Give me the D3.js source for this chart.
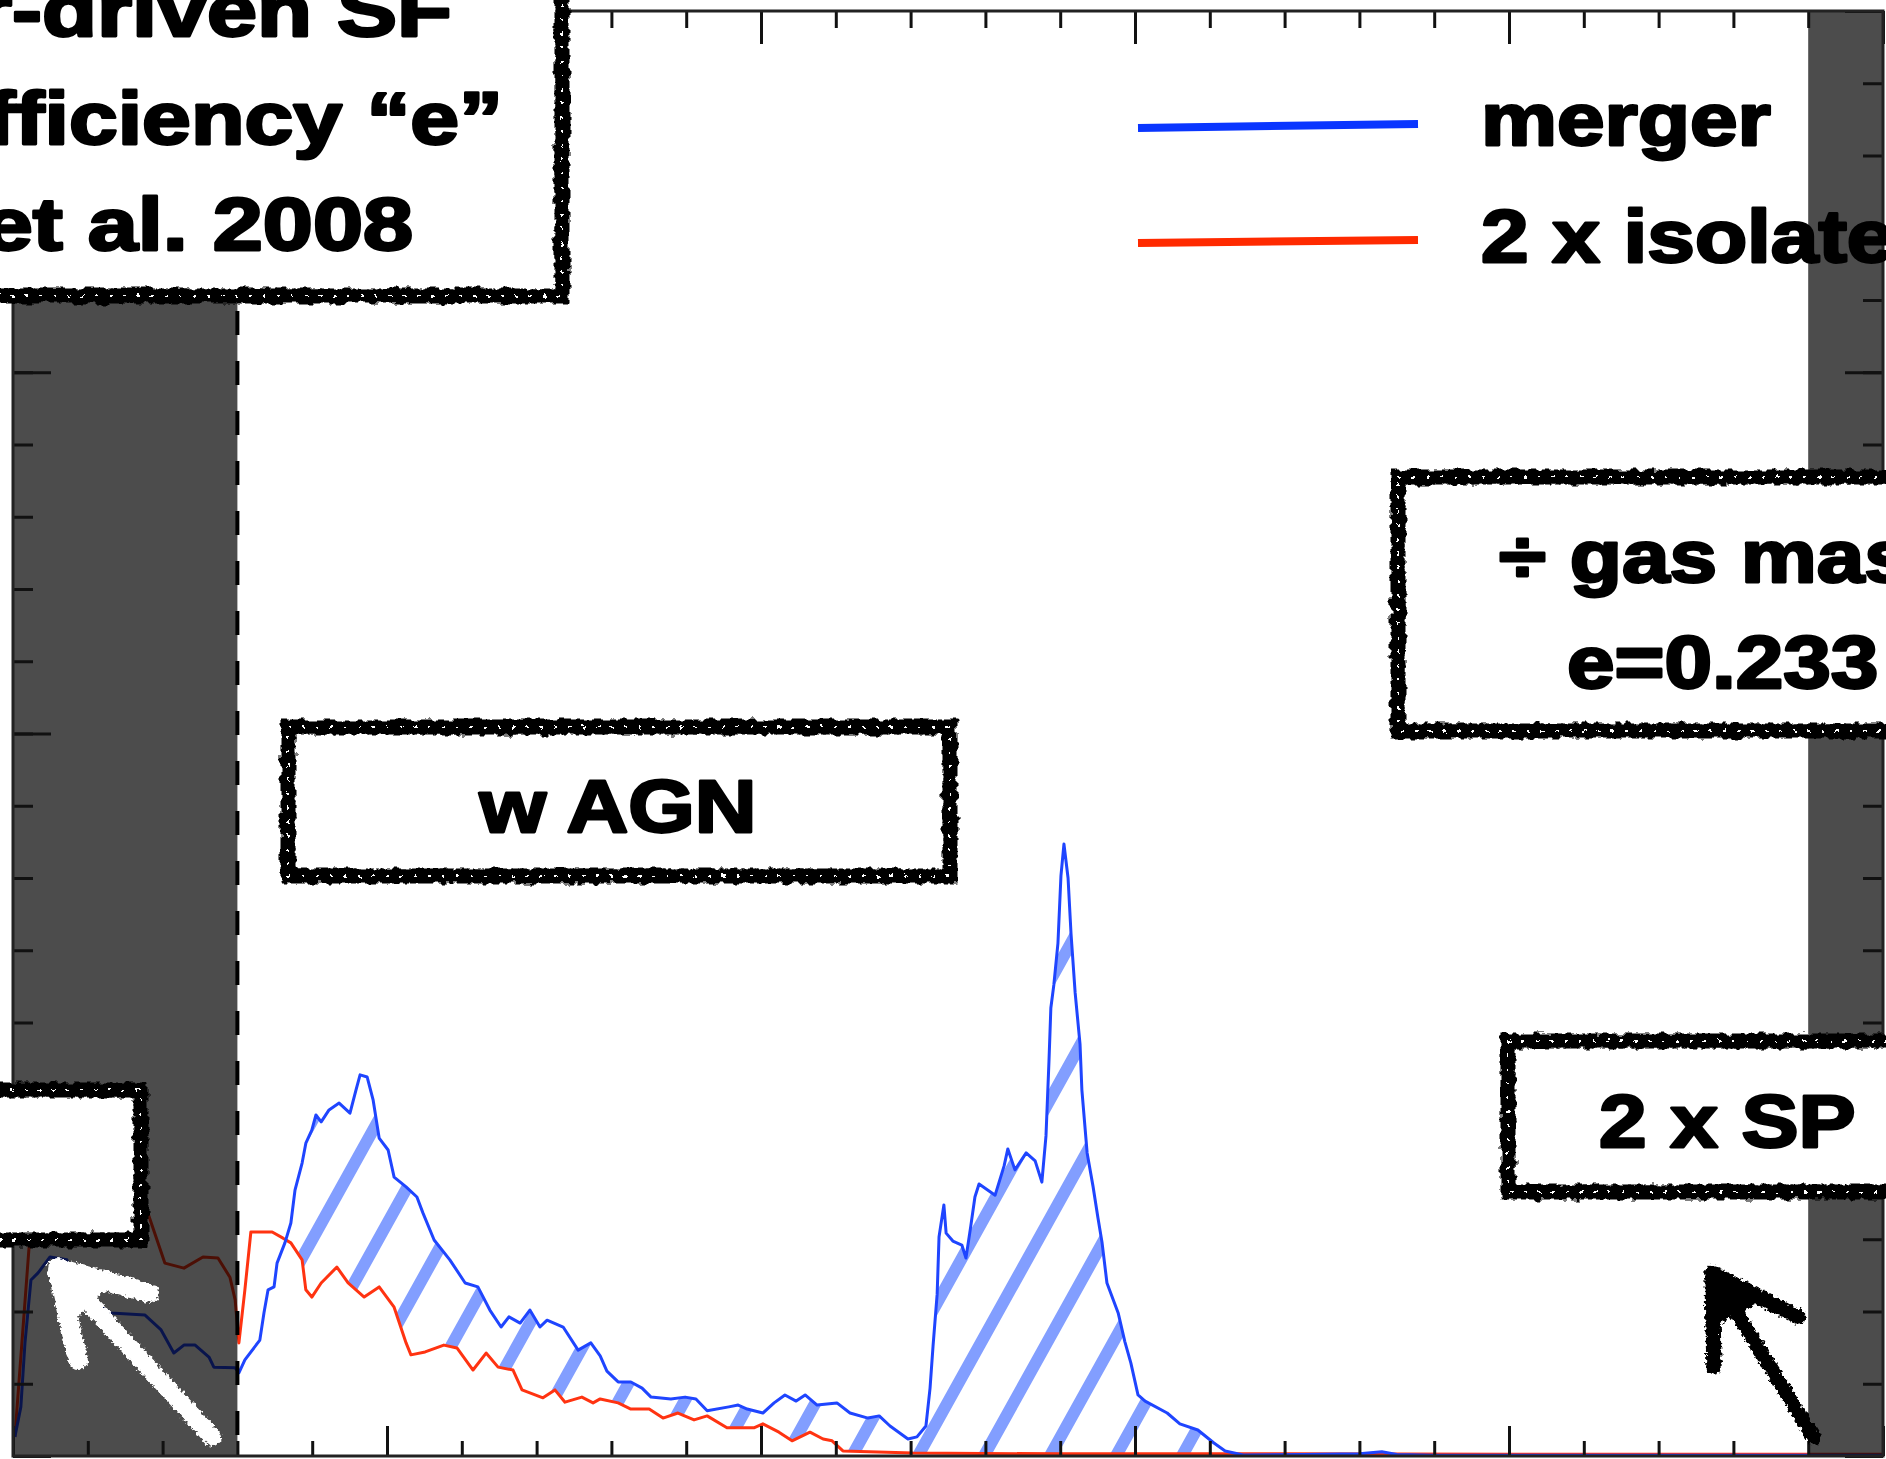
<!DOCTYPE html>
<html><head><meta charset="utf-8">
<script src="https://cdn.jsdelivr.net/npm/d3@7"></script>
<style>html,body{margin:0;padding:0;background:#fff;overflow:hidden}</style>
</head><body>
<svg id="c" width="1886" height="1459"></svg>
<script>
// ---------------- DATA (time, star formation rate) ----------------
const merger = [[0.005,0.053],[0.021,0.136],[0.032,0.313],[0.048,0.487],[0.067,0.507],[0.099,0.551],[0.144,0.543],[0.160,0.495],[0.206,0.432],[0.262,0.396],[0.353,0.390],[0.396,0.349],[0.430,0.285],[0.457,0.307],[0.487,0.307],[0.524,0.274],[0.537,0.246],[0.594,0.244],[0.604,0.230],[0.620,0.266],[0.660,0.321],[0.671,0.396],[0.682,0.460],[0.698,0.468],[0.706,0.534],[0.727,0.590],[0.743,0.645],[0.754,0.736],[0.773,0.811],[0.783,0.866],[0.799,0.902],[0.810,0.944],[0.824,0.925],[0.845,0.958],[0.872,0.977],[0.901,0.949],[0.917,1.013],[0.928,1.055],[0.947,1.049],[0.963,0.985],[0.979,0.880],[1.003,0.847],[1.019,0.772],[1.051,0.745],[1.080,0.717],[1.096,0.673],[1.126,0.598],[1.168,0.543],[1.209,0.479],[1.243,0.468],[1.275,0.404],[1.305,0.357],[1.326,0.385],[1.356,0.368],[1.382,0.404],[1.409,0.357],[1.428,0.376],[1.471,0.357],[1.511,0.293],[1.545,0.313],[1.570,0.277],[1.588,0.235],[1.618,0.205],[1.652,0.205],[1.682,0.188],[1.706,0.163],[1.759,0.158],[1.797,0.163],[1.826,0.158],[1.856,0.125],[1.914,0.136],[1.939,0.141],[1.963,0.130],[2.005,0.119],[2.035,0.147],[2.064,0.169],[2.094,0.152],[2.118,0.169],[2.150,0.141],[2.203,0.147],[2.238,0.119],[2.286,0.105],[2.316,0.111],[2.345,0.083],[2.393,0.047],[2.417,0.053],[2.441,0.083],[2.452,0.188],[2.460,0.304],[2.471,0.448],[2.476,0.606],[2.489,0.695],[2.495,0.617],[2.513,0.595],[2.537,0.584],[2.548,0.548],[2.561,0.637],[2.572,0.717],[2.583,0.753],[2.626,0.722],[2.650,0.803],[2.660,0.850],[2.679,0.792],[2.709,0.839],[2.733,0.817],[2.751,0.758],[2.762,0.886],[2.770,1.093],[2.775,1.240],[2.783,1.304],[2.794,1.420],[2.802,1.606],[2.810,1.694],[2.821,1.600],[2.829,1.445],[2.840,1.282],[2.853,1.140],[2.858,1.013],[2.872,0.839],[2.888,0.745],[2.901,0.659],[2.912,0.590],[2.925,0.479],[2.955,0.396],[2.973,0.316],[2.989,0.257],[3.008,0.169],[3.027,0.152],[3.086,0.119],[3.120,0.089],[3.168,0.072],[3.211,0.036],[3.241,0.014],[3.289,0.003],[3.45,0.004],[3.60,0.006],[3.66,0.012],[3.70,0.004],[3.80,0.002],[4.2,0.002],[4.6,0.002],[5.0,0.002]];

const isolated = [[0.005,0.053],[0.043,0.579],[0.059,0.681],[0.12,0.70],[0.25,0.69],[0.353,0.695],[0.364,0.662],[0.406,0.534],[0.457,0.520],[0.508,0.551],[0.548,0.548],[0.580,0.495],[0.594,0.432],[0.604,0.313],[0.620,0.460],[0.636,0.620],[0.693,0.620],[0.722,0.603],[0.743,0.590],[0.773,0.543],[0.783,0.460],[0.799,0.440],[0.824,0.479],[0.866,0.523],[0.896,0.479],[0.939,0.440],[0.979,0.468],[1.019,0.412],[1.051,0.313],[1.064,0.280],[1.102,0.288],[1.152,0.307],[1.187,0.299],[1.230,0.238],[1.265,0.285],[1.297,0.246],[1.337,0.238],[1.361,0.183],[1.417,0.161],[1.449,0.183],[1.476,0.149],[1.521,0.163],[1.551,0.147],[1.570,0.158],[1.618,0.147],[1.652,0.130],[1.701,0.130],[1.738,0.105],[1.778,0.119],[1.821,0.100],[1.856,0.111],[1.909,0.078],[1.981,0.078],[2.005,0.089],[2.048,0.066],[2.083,0.042],[2.131,0.066],[2.166,0.047],[2.190,0.042],[2.219,0.014],[2.406,0.008],[2.8,0.006],[3.4,0.006],[4.0,0.005],[5.0,0.005]];

const shadedBands = [[0, 0.6], [4.8, 5.0]];
const dashedAt = 0.6;
const xMinorTicks = d3.range(0, 26).map(i => i * 0.2);
const xMajorTicks = [0, 1, 2, 3, 4, 5];
const yMinorTicks = d3.range(0, 21).map(i => i * 0.2);
const yMajorTicks = [0, 1, 2, 3, 4];
const legendLabels = ["merger", "2 x isolated"];
const boxLabels = {
  topLeft: ["er-driven SF", "fficiency \u201ce\u201d", "et al. 2008"],
  agn: "w AGN",
  gas: ["\u00f7 gas mass", "e=0.233"],
  sp: "2 x SP"
};

// ---------------- LAYOUT ----------------
const W = 1886, H = 1459;
const PL = 13, PR = 1883, PT = 11, PB = 1456;
const x = d3.scaleLinear().domain([0, 5]).range([PL, PR]);
const y = d3.scaleLinear().domain([0, 4]).range([PB, PT]);
const BLUE = "#1f45ff", RED = "#ff3311";

const svg = d3.select("#c");
const defs = svg.append("defs");
function roughFilter(id, freq, scale, seed) {
  const f = defs.append("filter").attr("id", id)
    .attr("filterUnits", "userSpaceOnUse").attr("x", -100).attr("y", -100).attr("width", W + 200).attr("height", H + 200);
  f.append("feTurbulence").attr("type", "fractalNoise").attr("baseFrequency", freq).attr("numOctaves", 2).attr("seed", seed).attr("result", "n");
  f.append("feDisplacementMap").attr("in", "SourceGraphic").attr("in2", "n").attr("scale", scale)
    .attr("xChannelSelector", "R").attr("yChannelSelector", "G");
}
roughFilter("rough", 0.12, 9, 3);
roughFilter("rough2", 0.25, 6, 11);
roughFilter("roughArrow", 0.3, 7, 5);

svg.append("rect").attr("width", W).attr("height", H).attr("fill", "#fff");

function interp(series, t) {
  const i = d3.bisector(d => d[0]).right(series, t);
  if (i <= 0) return series[0][1];
  if (i >= series.length) return series[series.length - 1][1];
  const a = series[i - 1], b = series[i];
  return a[1] + (b[1] - a[1]) * (t - a[0]) / (b[0] - a[0]);
}

// hatch region between merger and isolated
const grid = d3.range(0.6, 3.35, 0.002);
const excess = d3.area()
  .x(t => x(t))
  .y0(t => y(Math.min(interp(isolated, t), interp(merger, t))))
  .y1(t => y(interp(merger, t)));
defs.append("clipPath").attr("id", "hatchClip").append("path").attr("d", excess(grid));

const hatch = svg.append("g").attr("clip-path", "url(#hatchClip)");
const slope = 1.8;
for (let c = -600; c < 1900; c += 66) {
  hatch.append("line")
    .attr("x1", c).attr("y1", PB).attr("x2", c + (PB - PT) / slope).attr("y2", PT)
    .attr("stroke", "#3563ff").attr("stroke-opacity", 0.62).attr("stroke-width", 12).attr("stroke-linecap", "round");
}

// curves
const line = d3.line().x(d => x(d[0])).y(d => y(d[1]));
svg.append("path").datum(isolated).attr("d", line).attr("fill", "none").attr("stroke", RED).attr("stroke-width", 3).attr("stroke-linejoin", "round");
svg.append("path").datum(merger).attr("d", line).attr("fill", "none").attr("stroke", BLUE).attr("stroke-width", 3).attr("stroke-linejoin", "round");

// shaded bands
svg.selectAll("rect.band").data(shadedBands).join("rect").attr("class", "band")
  .attr("x", d => x(d[0])).attr("width", d => x(d[1]) - x(d[0]))
  .attr("y", PT).attr("height", PB - PT)
  .attr("fill", "#000").attr("fill-opacity", 0.7);

// dashed line
svg.append("line").attr("x1", x(dashedAt)).attr("x2", x(dashedAt)).attr("y1", PT).attr("y2", PB)
  .attr("stroke", "#000").attr("stroke-width", 4).attr("stroke-dasharray", "24,26");

// axes (ticks inward, no labels)
function addAxis(gen, transform, ticks, size) {
  const g = svg.append("g").attr("transform", transform)
    .call(gen.tickValues(ticks).tickSize(size).tickFormat(""));
  g.select(".domain").remove();
  g.selectAll(".tick line").attr("stroke", "#111").attr("stroke-width", 3);
}
addAxis(d3.axisTop(x), `translate(0,${PB})`, xMinorTicks, 15);
addAxis(d3.axisTop(x), `translate(0,${PB})`, xMajorTicks, 30);
addAxis(d3.axisBottom(x), `translate(0,${PT})`, xMinorTicks, 17);
addAxis(d3.axisBottom(x), `translate(0,${PT})`, xMajorTicks, 33);
addAxis(d3.axisRight(y), `translate(${PL},0)`, yMinorTicks, 20);
addAxis(d3.axisRight(y), `translate(${PL},0)`, yMajorTicks, 38);
addAxis(d3.axisLeft(y), `translate(${PR},0)`, yMinorTicks, 20);
addAxis(d3.axisLeft(y), `translate(${PR},0)`, yMajorTicks, 38);
svg.append("rect").attr("x", PL).attr("y", PT).attr("width", PR - PL).attr("height", PB - PT)
  .attr("fill", "none").attr("stroke", "#222").attr("stroke-width", 3);

// sketchy boxes
function sketchBox(x0, y0, x1, y1) {
  const g = svg.append("g");
  g.append("rect").attr("x", x0).attr("y", y0).attr("width", x1 - x0).attr("height", y1 - y0).attr("fill", "#fff");
  g.append("rect").attr("x", x0).attr("y", y0).attr("width", x1 - x0).attr("height", y1 - y0)
    .attr("fill", "none").attr("stroke", "#000").attr("stroke-width", 15).attr("filter", "url(#rough)");
  g.append("rect").attr("x", x0 + 2).attr("y", y0 + 2).attr("width", x1 - x0 - 4).attr("height", y1 - y0 - 4)
    .attr("fill", "none").attr("stroke", "#000").attr("stroke-width", 9).attr("filter", "url(#rough2)");
  g.append("rect").attr("x", x0).attr("y", y0).attr("width", x1 - x0).attr("height", y1 - y0)
    .attr("fill", "none").attr("stroke", "#fff").attr("stroke-width", 2).attr("stroke-dasharray", "3,11").attr("filter", "url(#rough2)");
}
sketchBox(-60, -60, 562, 296);
sketchBox(288, 727, 950, 876);
sketchBox(1398, 477, 1960, 731);
sketchBox(-60, 1090, 141, 1240);
sketchBox(1508, 1041, 1960, 1192);

// labels
function label(txt, px, py, anchor, sx) {
  svg.append("text").attr("transform", `translate(${px},${py}) scale(${sx || 1.14},1)`)
    .attr("text-anchor", anchor)
    .attr("font-family", "'Liberation Sans', Arial, sans-serif").attr("font-weight", "bold").attr("font-size", 75)
    .attr("fill", "#000").attr("stroke", "#000").attr("stroke-width", 2.8).attr("stroke-linejoin", "round")
    .text(txt);
}
label(boxLabels.topLeft[0], 452, 36, "end", 1.2);
label(boxLabels.topLeft[1], 503, 144, "end", 1.17);
label(boxLabels.topLeft[2], 413, 250, "end", 1.2);
label(boxLabels.agn, 618, 832, "middle");
label(boxLabels.gas[0], 1499, 582, "start");
label(boxLabels.gas[1], 1567, 688, "start");
label(boxLabels.sp, 1599, 1147, "start");

// legend
svg.append("line").attr("x1", 1138).attr("y1", 128).attr("x2", 1418).attr("y2", 124).attr("stroke", "#0a36ff").attr("stroke-width", 8);
svg.append("line").attr("x1", 1138).attr("y1", 243).attr("x2", 1418).attr("y2", 240).attr("stroke", "#ff2a00").attr("stroke-width", 8);
label(legendLabels[0], 1481, 145, "start");
label(legendLabels[1], 1481, 262, "start");

// arrows (open sketchy heads)
function arrow(tip, tail, wingL, wingR, hw, color) {
  const g = svg.append("g").attr("filter", "url(#roughArrow)")
    .attr("stroke", color).attr("stroke-linecap", "round").attr("stroke-linejoin", "round").attr("fill", "none");
  g.append("line").attr("x1", tail[0]).attr("y1", tail[1]).attr("x2", tip[0]).attr("y2", tip[1]).attr("stroke-width", hw * 2);
  g.append("path").attr("d", `M${wingL[0]},${wingL[1]}L${tip[0]},${tip[1]}L${wingR[0]},${wingR[1]}`).attr("stroke-width", hw * 2.2);
  const ux = tip[0] - tail[0], uy = tip[1] - tail[1];
  g.append("path").attr("d", `M${tip[0]},${tip[1]}L${(tip[0] + wingL[0]) / 2 + 6},${(tip[1] + wingL[1]) / 2}L${(tip[0] + wingR[0]) / 2},${(tip[1] + wingR[1]) / 2 + 6}Z`)
    .attr("fill", color).attr("stroke-width", hw);
}
arrow([57, 1268], [212, 1437], [78, 1360], [149, 1293], 9, "#fff");
arrow([1712, 1273], [1814, 1438], [1714, 1367], [1798, 1317], 7, "#000");
</script>
</body></html>
